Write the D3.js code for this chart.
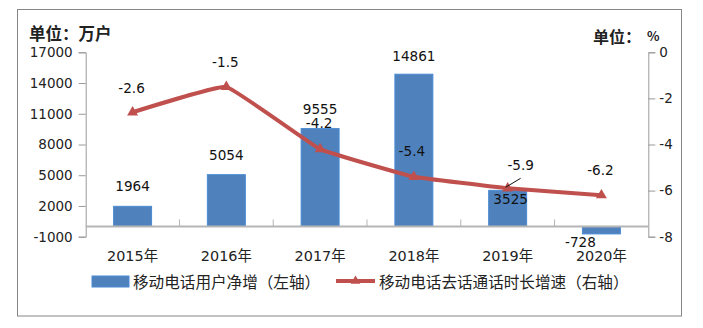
<!DOCTYPE html>
<html>
<head>
<meta charset="utf-8">
<script src="https://cdn.jsdelivr.net/npm/d3@7"></script>
<style>
  html, body { margin: 0; padding: 0; background: #fff; }
  svg { display: block; }
</style>
</head>
<body>
<svg id="chart" width="703" height="328"></svg>
<script>
// Categories and series
const years = ["2015年", "2016年", "2017年", "2018年", "2019年", "2020年"];
const netAdds = [1964, 5054, 9555, 14861, 3525, -728];          // 移动电话用户净增（万户）
const callGrowth = [-2.6, -1.5, -4.2, -5.4, -5.9, -6.2];        // 移动电话去话通话时长增速（%）
const leftTicks = [-1000, 2000, 5000, 8000, 11000, 14000, 17000];
const rightTicks = [0, -2, -4, -6, -8];
const seriesNames = ["移动电话用户净增（左轴）", "移动电话去话通话时长增速（右轴）"];

const NUM_FONT = "'DejaVu Sans', 'Noto Sans CJK SC', sans-serif";
const CJK_FONT = "'Noto Sans CJK SC', sans-serif";
const BAR_FILL = "#4F81BD", BAR_STROKE = "#4A8BD3", LINE_COLOR = "#C0504D";
const plain = d => String(d);   // keep ASCII hyphen for negatives

const svg = d3.select("#chart");

// Plot area
const plot = { left: 85.7, right: 648.3, top: 52.3, bottom: 236.7 };

const x = d3.scaleBand().domain(years)
  .range([plot.left, plot.right])
  .paddingInner(0.595).paddingOuter(0.2975);
const yL = d3.scaleLinear().domain([-1000, 17000]).range([plot.bottom, plot.top]);
const yR = d3.scaleLinear().domain([-8, 0]).range([plot.bottom, plot.top]);

// Outer frame
svg.append("rect")
  .attr("x", 17.5).attr("y", 9.5).attr("width", 664).attr("height", 306.5)
  .attr("fill", "#fff").attr("stroke", "#868686").attr("stroke-width", 1);

// Unit titles
svg.append("text").attr("x", 29).attr("y", 33)
  .attr("dominant-baseline", "central")
  .attr("font-family", CJK_FONT).attr("font-weight", "bold").attr("font-size", 16.5)
  .attr("fill", "#222").text("单位：万户");
svg.append("text").attr("x", 593).attr("y", 35.5)
  .attr("dominant-baseline", "central")
  .attr("font-family", CJK_FONT).attr("font-weight", "bold").attr("font-size", 16)
  .attr("fill", "#222").text("单位：");
svg.append("text").attr("x", 647).attr("y", 35.5)
  .attr("dominant-baseline", "central")
  .attr("font-family", CJK_FONT).attr("font-weight", "bold").attr("font-size", 13)
  .attr("fill", "#222").text("%");

// Axes
function styleAxis(g) {
  g.selectAll(".domain").attr("stroke", "#9a9a9a").attr("stroke-width", 1);
  g.selectAll(".tick line").attr("stroke", "#9a9a9a");
  g.selectAll(".tick text").attr("font-family", NUM_FONT).attr("font-size", 13.5).attr("fill", "#222");
}
svg.append("g").attr("transform", `translate(${plot.left},0)`)
  .call(d3.axisLeft(yL).tickValues(leftTicks).tickFormat(plain).tickSize(7).tickPadding(6))
  .call(styleAxis);
svg.append("g").attr("transform", `translate(${plot.right},0)`)
  .call(d3.axisRight(yR).tickValues(rightTicks).tickFormat(plain).tickSize(7).tickPadding(4))
  .call(styleAxis);

// Bars
svg.append("g").selectAll("rect").data(netAdds).join("rect")
  .attr("x", (d, i) => x(years[i]))
  .attr("width", x.bandwidth())
  .attr("y", d => yL(Math.max(0, d)))
  .attr("height", d => Math.abs(yL(d) - yL(0)))
  .attr("fill", BAR_FILL).attr("stroke", BAR_STROKE).attr("stroke-width", 1);

// Category axis at zero with dividing ticks
const y0 = yL(0);
svg.append("line").attr("x1", plot.left).attr("x2", plot.right).attr("y1", y0).attr("y2", y0)
  .attr("stroke", "#b5b5b5").attr("stroke-width", 2);
svg.append("g").selectAll("line").data(years.slice(1)).join("line")
  .attr("x1", d => x(d) - x.step() * x.paddingInner() / 2)
  .attr("x2", d => x(d) - x.step() * x.paddingInner() / 2)
  .attr("y1", y0).attr("y2", y0 - 7)
  .attr("stroke", "#b5b5b5").attr("stroke-width", 1);
svg.append("g").selectAll("text").data(years).join("text")
  .attr("x", d => x(d) + x.bandwidth() / 2)
  .attr("y", 256)
  .attr("text-anchor", "middle").attr("dominant-baseline", "central")
  .attr("font-family", NUM_FONT).attr("font-size", 14.4).attr("fill", "#222")
  .text(d => d);

// Growth line with triangle markers
const cx = i => x(years[i]) + x.bandwidth() / 2;
const line = d3.line().x((d, i) => cx(i)).y(d => yR(d)).curve(d3.curveCardinal.tension(0.75));
svg.append("path").datum(callGrowth).attr("d", line)
  .attr("fill", "none").attr("stroke", LINE_COLOR).attr("stroke-width", 4)
  .attr("stroke-linejoin", "round");
const tri = d3.symbol().type(d3.symbolTriangle).size(52);
svg.append("g").selectAll("path").data(callGrowth).join("path")
  .attr("transform", (d, i) => `translate(${cx(i)},${yR(d)})`)
  .attr("d", tri).attr("fill", LINE_COLOR);

// Bar value labels (nudges relative to bar end)
const barLabelNudge = [[0, -20], [0, -20], [0, -20], [0, -18], [3, 9], [-21, 8]];
svg.append("g").selectAll("text").data(netAdds).join("text")
  .attr("x", (d, i) => cx(i) + barLabelNudge[i][0])
  .attr("y", (d, i) => yL(d) + barLabelNudge[i][1])
  .attr("text-anchor", "middle").attr("dominant-baseline", "central")
  .attr("font-family", NUM_FONT).attr("font-size", 13.6).attr("fill", "#111")
  .text(plain);

// Line value labels
const lineLabelNudge = [[-1, -24], [-1, -24.5], [-1, -26], [-2, -26], [13, -23], [-1, -25]];
svg.append("g").selectAll("text").data(callGrowth).join("text")
  .attr("x", (d, i) => cx(i) + lineLabelNudge[i][0])
  .attr("y", (d, i) => yR(d) + lineLabelNudge[i][1])
  .attr("text-anchor", "middle").attr("dominant-baseline", "central")
  .attr("font-family", NUM_FONT).attr("font-size", 13.6).attr("fill", "#111")
  .text(d => d.toFixed(1));

// Leader line for the 2019 growth label
svg.append("line")
  .attr("x1", cx(4) + 13).attr("y1", yR(callGrowth[4]) - 10)
  .attr("x2", cx(4) - 2).attr("y2", yR(callGrowth[4]) - 1)
  .attr("stroke", "#111").attr("stroke-width", 1);

// Legend
const legend = svg.append("g");
legend.append("rect").attr("x", 92).attr("y", 276).attr("width", 37).attr("height", 11)
  .attr("fill", BAR_FILL).attr("stroke", BAR_STROKE);
legend.append("text").attr("x", 133).attr("y", 281)
  .attr("dominant-baseline", "central")
  .attr("font-family", CJK_FONT).attr("font-size", 15.6).attr("fill", "#222")
  .text(seriesNames[0]);
legend.append("line").attr("x1", 336).attr("x2", 375).attr("y1", 281).attr("y2", 281)
  .attr("stroke", LINE_COLOR).attr("stroke-width", 4);
legend.append("path").attr("transform", "translate(355.5,281)")
  .attr("d", d3.symbol().type(d3.symbolTriangle).size(40)).attr("fill", LINE_COLOR);
legend.append("text").attr("x", 379).attr("y", 281)
  .attr("dominant-baseline", "central")
  .attr("font-family", CJK_FONT).attr("font-size", 15.6).attr("fill", "#222")
  .text(seriesNames[1]);
</script>
</body>
</html>
